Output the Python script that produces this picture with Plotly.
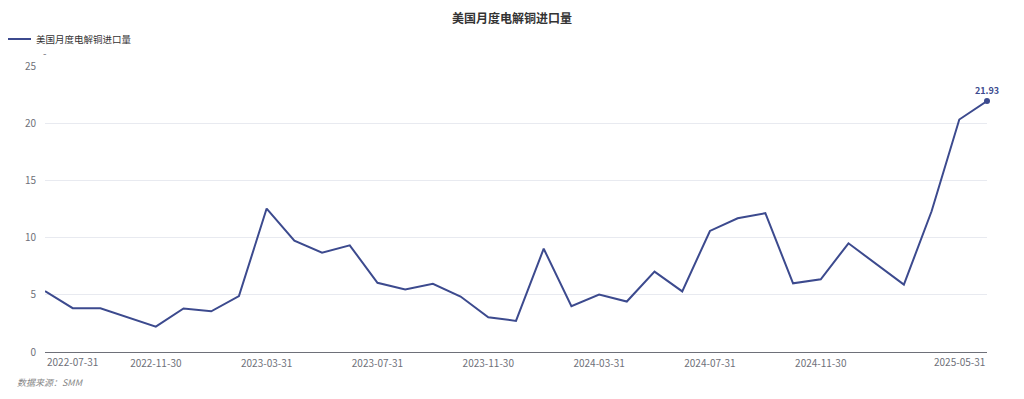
import plotly.graph_objects as go

dates = ["2022-07-31","2022-08-31","2022-09-30","2022-10-31","2022-11-30","2022-12-31",
         "2023-01-31","2023-02-28","2023-03-31","2023-04-30","2023-05-31","2023-06-30",
         "2023-07-31","2023-08-31","2023-09-30","2023-10-31","2023-11-30","2023-12-31",
         "2024-01-31","2024-02-29","2024-03-31","2024-04-30","2024-05-31","2024-06-30",
         "2024-07-31","2024-08-31","2024-09-30","2024-10-31","2024-11-30","2024-12-31",
         "2025-01-31","2025-02-28","2025-03-31","2025-04-30","2025-05-31"]
values = [5.32, 3.83, 3.83, 3.04, 2.22, 3.80, 3.56, 4.88, 12.54, 9.73, 8.68, 9.32,
          6.05, 5.46, 5.96, 4.85, 3.04, 2.72, 9.03, 4.00, 5.03, 4.41, 7.02, 5.30,
          10.58, 11.69, 12.13, 6.00, 6.36, 9.50, 7.70, 5.89, 12.30, 20.32, 21.93]
tick_labels = ["2022-07-31","2022-11-30","2023-03-31","2023-07-31","2023-11-30",
               "2024-03-31","2024-07-31","2024-11-30","2025-05-31"]
series_name = "美国月度电解铜进口量"
title = "美国月度电解铜进口量"
source = "数据来源：SMM"

color = "#3C4A8E"
axis_grey = "#6E7079"
font = "Noto Sans CJK SC, Microsoft YaHei, sans-serif"

# the page body adds an 8px offset; target page pixels are converted below
OFF = 8
W, H = 1024, 399
PL, PR, PT, PB = 45, 987, 66, 352          # plot area in page pixels
L, T = PL - OFF, PT - OFF
R = W - (PR - OFF)
B = H - (PB - OFF)
PW, PH = W - L - R, H - T - B


def px_x(page_px):
    return (page_px - PL) / PW


def px_y(page_py):
    return (PB - page_py) / PH


fig = go.Figure()
fig.add_trace(go.Scatter(x=dates, y=values, mode="lines", name=series_name,
                         line=dict(color=color, width=2)))
fig.add_trace(go.Scatter(x=[dates[-1]], y=[values[-1]], mode="markers+text",
                         text=[f"{values[-1]:.2f}"], textposition="top center",
                         textfont=dict(color=color, size=9, family=font, weight="bold"),
                         marker=dict(color=color, size=6), showlegend=False,
                         hoverinfo="skip", cliponaxis=False))

# middle tick labels are centred by the axis; first/last are edge-aligned like the source
mid_text = [t if t not in (tick_labels[0], tick_labels[-1]) else "" for t in tick_labels]

fig.update_layout(
    width=W, height=H,
    margin=dict(l=L, r=R, t=T, b=B, autoexpand=False),
    paper_bgcolor="white", plot_bgcolor="white",
    font=dict(family=font, color=axis_grey, size=10),
    title=dict(text=title, x=(512 - OFF) / W, xanchor="center", xref="container",
               y=1 - (19 - OFF) / H, yanchor="middle", yref="container",
               font=dict(size=12, color="#333333", family=font, weight="bold")),
    legend=dict(orientation="h", x=px_x(-4), xref="paper", xanchor="left",
                y=px_y(39), yref="paper", yanchor="middle",
                font=dict(size=9.5, color="#333333"),
                bgcolor="rgba(0,0,0,0)"),
    showlegend=True,
    xaxis=dict(type="category", range=[0, len(dates) - 1], automargin=False,
               tickmode="array", tickvals=tick_labels, ticktext=mid_text,
               showgrid=False, showline=True, linecolor=axis_grey, linewidth=1,
               ticks="", tickfont=dict(size=10, color=axis_grey), zeroline=False,
               ticklabelstandoff=2),
    yaxis=dict(range=[0, 25], tickvals=[0, 5, 10, 15, 20, 25], showgrid=True,
               automargin=False,
               gridcolor="#E8EAF0", gridwidth=1, zeroline=False, showline=False,
               ticks="", tickfont=dict(size=10, color=axis_grey), ticklabelstandoff=8),
    annotations=[
        dict(text=tick_labels[0], xref="x", yref="paper", x=tick_labels[0], y=0,
             yshift=0, xanchor="left", yanchor="top", showarrow=False,
             font=dict(size=10, color=axis_grey, family=font)),
        dict(text=tick_labels[-1], xref="x", yref="paper", x=tick_labels[-1], y=0,
             yshift=0, xanchor="right", yanchor="top", showarrow=False,
             font=dict(size=10, color=axis_grey, family=font)),
        dict(text=source, xref="paper", yref="paper", x=px_x(15),
             y=px_y(382), xanchor="left", yanchor="middle", showarrow=False,
             font=dict(size=9, color="#888888", family=font, style="italic")),
        dict(text="-", xref="paper", yref="paper", x=px_x(45),
             y=px_y(52), xanchor="center", yanchor="middle", showarrow=False,
             font=dict(size=10, color=axis_grey)),
    ],
)

fig.write_html("out.html")
